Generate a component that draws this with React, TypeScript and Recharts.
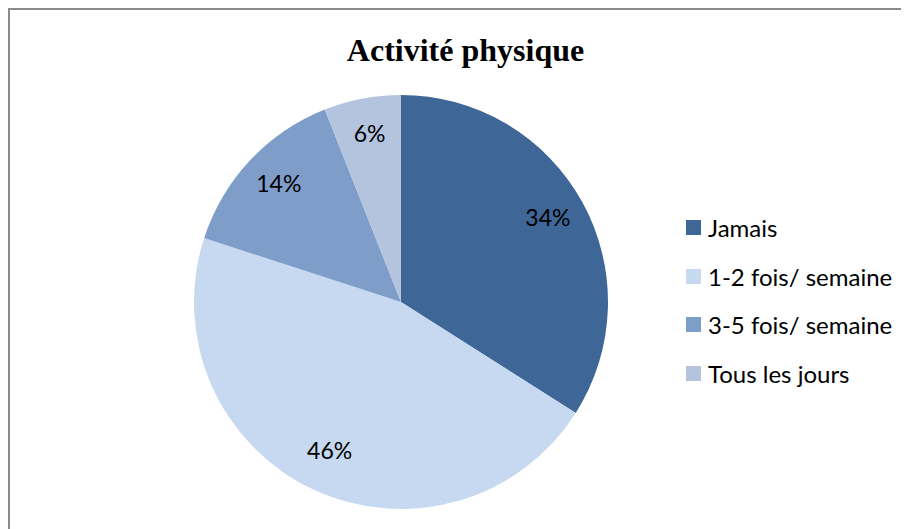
import { Cell, Legend, Pie, PieChart } from "recharts";

const categories = ["Jamais", "1-2 fois/ semaine", "3-5 fois/ semaine", "Tous les jours"];
const shares = [34, 46, 14, 6];
const colors = ["#3E6697", "#C7D9F1", "#7F9DC9", "#B4C3DE"];

const data = categories.map((name, i) => ({ name, value: shares[i] }));

const RAD = Math.PI / 180;
const labelFont = "Lato, 'Open Sans', sans-serif";

function renderLabel(props: any) {
  const { cx, cy, midAngle, outerRadius, value } = props;
  const r = outerRadius * 0.81;
  const x = cx + r * Math.cos(-midAngle * RAD);
  const y = cy + r * Math.sin(-midAngle * RAD) - 4;
  return (
    <text x={x} y={y} textAnchor="middle" dominantBaseline="central" fill="#000" fontSize={23} fontFamily={labelFont}>
      {value}%
    </text>
  );
}

function LegendList() {
  return (
    <div style={{ fontFamily: labelFont, fontSize: 24, color: "#000" }}>
      {categories.map((c, i) => (
        <div key={c} style={{ display: "flex", alignItems: "center", height: 48.7 }}>
          <span style={{ width: 15, height: 15, background: colors[i], display: "inline-block", marginRight: 7, flexShrink: 0 }} />
          <span style={{ whiteSpace: "nowrap" }}>{c}</span>
        </div>
      ))}
    </div>
  );
}

export default function App() {
  return (
    <div
      style={{
        position: "relative",
        width: 901,
        height: 521,
        borderLeft: "2px solid #8a8a8a",
        borderTop: "2px solid #8a8a8a",
        boxSizing: "border-box",
        overflow: "hidden",
        background: "#fff",
      }}
    >
      <div
        style={{
          position: "absolute",
          left: 0,
          top: 22,
          width: 911,
          textAlign: "center",
          fontFamily: "'Liberation Serif', 'Times New Roman', serif",
          fontWeight: "bold",
          fontSize: 32,
          lineHeight: 1.15,
          color: "#000",
        }}
      >
        Activité physique
      </div>
      <PieChart width={899} height={519} margin={{ top: 0, right: 0, bottom: 0, left: 0 }}>
        <Pie
          data={data}
          dataKey="value"
          nameKey="name"
          cx={391}
          cy={292}
          outerRadius={207}
          startAngle={90}
          endAngle={-270}
          stroke="none"
          label={renderLabel}
          labelLine={false}
          isAnimationActive={false}
        >
          {data.map((d, i) => (
            <Cell key={d.name} fill={colors[i]} />
          ))}
        </Pie>
        <Legend
          layout="vertical"
          content={() => <LegendList />}
          wrapperStyle={{ left: 676, top: 193, width: 230 }}
        />
      </PieChart>
    </div>
  );
}
